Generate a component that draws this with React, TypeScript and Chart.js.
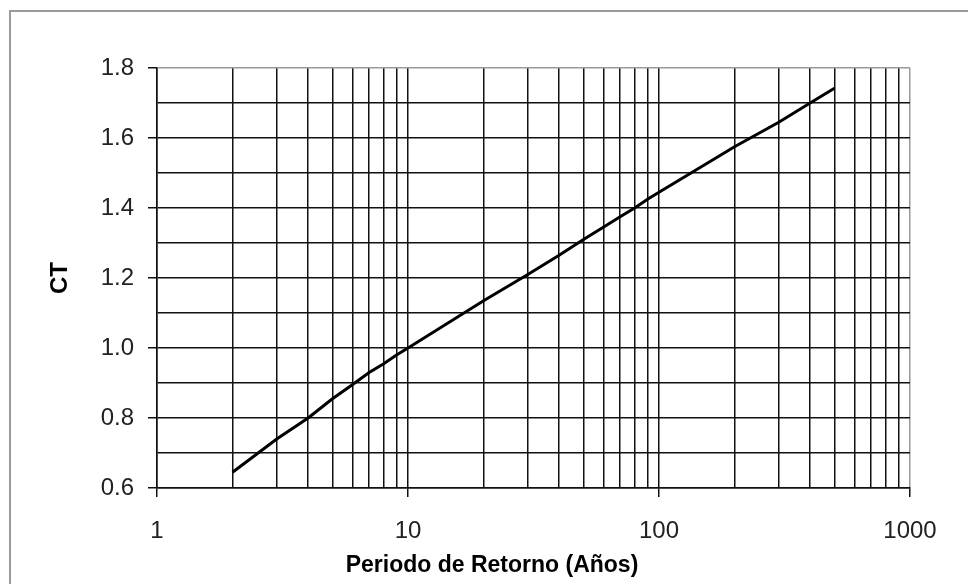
import React, { useEffect, useRef } from 'react';
import { Chart, registerables } from 'chart.js';

Chart.register(...registerables);

// Return period (years) and CT values
const periods = [2, 3, 4, 5, 6, 7, 8, 9, 10, 20, 30, 40, 50, 60, 70, 80, 90, 100, 200, 300, 400, 500];
const ctValues = [0.645, 0.74, 0.8, 0.855, 0.895, 0.93, 0.955, 0.98, 1.0, 1.135, 1.21, 1.265, 1.31, 1.345, 1.375, 1.4, 1.425, 1.445, 1.575, 1.645, 1.7, 1.742];

// Axis grid / tick values
const xGridValues = [1, 2, 3, 4, 5, 6, 7, 8, 9, 10, 20, 30, 40, 50, 60, 70, 80, 90, 100, 200, 300, 400, 500, 600, 700, 800, 900, 1000];
const xLabelValues = [1, 10, 100, 1000];
const yGridValues = [0.6, 0.7, 0.8, 0.9, 1.0, 1.1, 1.2, 1.3, 1.4, 1.5, 1.6, 1.7, 1.8];
const yLabelValues = [0.6, 0.8, 1.0, 1.2, 1.4, 1.6, 1.8];

const xTitle = 'Periodo de Retorno (Años)';
const yTitle = 'CT';

const FONT = "'Liberation Sans', Arial, sans-serif";
const INK = '#111111';
const EDGE = '#9a9a9a';

const isIn = (arr: number[], v: number) => arr.some((a) => Math.abs(a - v) < 1e-9);

export default function App() {
  const canvasRef = useRef<HTMLCanvasElement | null>(null);

  useEffect(() => {
    if (!canvasRef.current) return;
    const chart = new Chart(canvasRef.current, {
      type: 'line',
      data: {
        datasets: [
          {
            data: periods.map((p, i) => ({ x: p, y: ctValues[i] })),
            borderColor: '#000000',
            borderWidth: 3,
            pointRadius: 0,
            tension: 0,
            fill: false,
          },
        ],
      },
      options: {
        animation: false,
        responsive: false,
        layout: { padding: { left: 16, right: 0, top: 68, bottom: 0 } },
        plugins: {
          legend: { display: false },
          tooltip: { enabled: false },
          title: {
            display: true,
            position: 'bottom',
            text: xTitle,
            color: '#000',
            font: { family: FONT, size: 23, weight: 'bold' },
            padding: { top: 0, bottom: 5 },
          },
        },
        scales: {
          x: {
            type: 'logarithmic',
            min: 1,
            max: 1000,
            afterBuildTicks: (scale: any) => {
              scale.ticks = xGridValues.map((v) => ({ value: v }));
            },
            afterFit: (scale: any) => {
              scale.height = 63.4;
            },
            ticks: {
              autoSkip: false,
              maxRotation: 0,
              padding: 20,
              color: '#222',
              font: { family: FONT, size: 24 },
              callback: (value: any) => (isIn(xLabelValues, Number(value)) ? String(value) : ''),
            },
            grid: {
              color: (ctx: any) => (ctx.tick && ctx.tick.value === 1000 ? EDGE : INK),
              lineWidth: 1.5,
              tickLength: 9,
              tickColor: (ctx: any) => (ctx.tick && isIn(xLabelValues, ctx.tick.value) ? INK : 'rgba(0,0,0,0)'),
            },
            border: { color: INK, width: 1.5 },
          },
          y: {
            type: 'linear',
            min: 0.6,
            max: 1.8,
            afterBuildTicks: (scale: any) => {
              scale.ticks = yGridValues.map((v) => ({ value: v }));
            },
            afterFit: (scale: any) => {
              scale.width = 141;
            },
            ticks: {
              autoSkip: false,
              padding: 14,
              color: '#222',
              font: { family: FONT, size: 24 },
              callback: (value: any) => (isIn(yLabelValues, Number(value)) ? Number(value).toFixed(1) : ''),
            },
            grid: {
              color: (ctx: any) => (ctx.tick && Math.abs(ctx.tick.value - 1.8) < 1e-9 ? EDGE : INK),
              lineWidth: 1.5,
              tickLength: 9,
              tickColor: (ctx: any) => (ctx.tick && isIn(yLabelValues, ctx.tick.value) ? INK : 'rgba(0,0,0,0)'),
            },
            border: { color: INK, width: 1.5 },
            title: {
              display: true,
              text: yTitle,
              color: '#000',
              font: { family: FONT, size: 24, weight: 'bold' },
              padding: { top: 30, bottom: 0 },
            },
          },
          // empty right-hand spacer that keeps the plot's right edge in place
          spacer: {
            type: 'linear',
            position: 'right',
            display: true,
            afterFit: (scale: any) => {
              scale.width = 58;
            },
            ticks: { display: false },
            grid: { display: false, drawTicks: false },
            border: { display: false },
          },
        },
      },
    } as any);
    return () => chart.destroy();
  }, []);

  return (
    <div
      style={{
        position: 'fixed',
        left: 0,
        top: 0,
        width: 968,
        height: 584,
        overflow: 'hidden',
        background: '#ffffff',
      }}
    >
      <canvas ref={canvasRef} width={968} height={584} style={{ position: 'absolute', left: 0, top: 0 }} />
      <div
        style={{
          position: 'absolute',
          left: 9,
          top: 10,
          width: 1100,
          height: 700,
          border: `2px solid ${EDGE}`,
          pointerEvents: 'none',
        }}
      />
    </div>
  );
}
